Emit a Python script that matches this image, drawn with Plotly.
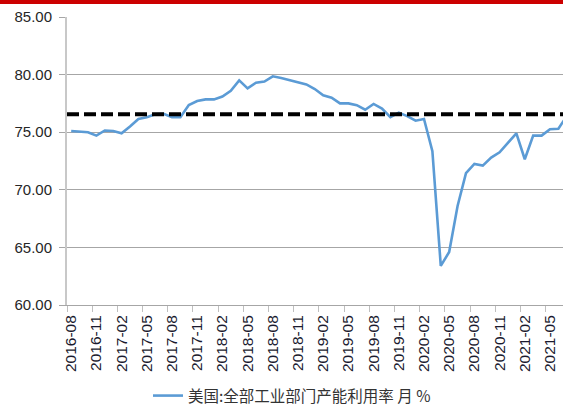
import plotly.graph_objects as go

months = [
    "2016-08","2016-09","2016-10","2016-11","2016-12","2017-01","2017-02","2017-03","2017-04","2017-05",
    "2017-06","2017-07","2017-08","2017-09","2017-10","2017-11","2017-12","2018-01","2018-02","2018-03",
    "2018-04","2018-05","2018-06","2018-07","2018-08","2018-09","2018-10","2018-11","2018-12","2019-01",
    "2019-02","2019-03","2019-04","2019-05","2019-06","2019-07","2019-08","2019-09","2019-10","2019-11",
    "2019-12","2020-01","2020-02","2020-03","2020-04","2020-05","2020-06","2020-07","2020-08","2020-09",
    "2020-10","2020-11","2020-12","2021-01","2021-02","2021-03","2021-04","2021-05","2021-06","2021-07",
]
utilization = [
    75.1, 75.05, 75.0, 74.7, 75.15, 75.1, 74.9, 75.5, 76.15, 76.3,
    76.55, 76.6, 76.3, 76.3, 77.35, 77.7, 77.85, 77.85, 78.1, 78.6,
    79.5, 78.8, 79.3, 79.4, 79.85, 79.7, 79.5, 79.3, 79.15, 78.75,
    78.2, 78.0, 77.5, 77.5, 77.35, 76.95, 77.45, 77.05, 76.3, 76.7,
    76.4, 76.0, 76.15, 73.35, 63.4, 64.6, 68.6, 71.45, 72.25, 72.1,
    72.8, 73.25, 74.05, 74.9, 72.65, 74.7, 74.7, 75.25, 75.3, 76.4,
]
average_level = 76.55
series_name = "美国:全部工业部门产能利用率 月 %"
y_ticks = [60, 65, 70, 75, 80, 85]

W, H = 563, 407
L, R, T, B = 67, 0, 17, 102
pw, ph = W - L - R, H - T - B

fig = go.Figure()
fig.add_trace(go.Scatter(
    x=months, y=utilization, mode="lines", name=series_name,
    line=dict(color="#5B9BD5", width=2.6),
))

# average dashed line
fig.add_shape(type="line", xref="paper", yref="y", x0=0, x1=1,
              y0=average_level, y1=average_level,
              line=dict(color="black", width=4, dash="12px,5px"), layer="above")
# red line on top
fig.add_shape(type="rect", xref="paper", yref="paper",
              x0=-L / pw, x1=1 + 1 / pw, y0=1 + (T - 4) / ph, y1=1 + (T + 1) / ph,
              fillcolor="#CC0000", line=dict(width=0), layer="above")

font = "Liberation Sans, Arial, sans-serif"
fig.update_layout(
    template="none",
    width=W, height=H,
    margin=dict(l=L, r=R, t=T, b=B, autoexpand=False),
    paper_bgcolor="white", plot_bgcolor="white",
    font=dict(family=font, size=14, color="#222222"),
    showlegend=True,
    legend=dict(orientation="h", x=148 / W, xref="container", xanchor="left",
                y=1 - 396 / H, yref="container", yanchor="middle",
                font=dict(family="Noto Sans CJK SC, " + font, size=15.5, color="#333333"),
                itemwidth=30, bgcolor="rgba(0,0,0,0)", borderwidth=0),
    xaxis=dict(
        type="category", range=[-0.5, 58.55], dtick=3, tickson="boundaries",
        tickangle=-90, ticks="outside", ticklen=6, tickcolor="#BFBFBF",
        showline=True, linecolor="#A6A6A6", linewidth=1,
        showgrid=False, tickfont=dict(size=15.5, color="#1a1a2e"),
        ticklabelstandoff=3,
        automargin=False, fixedrange=True,
    ),
    yaxis=dict(
        range=[60, 85], tickvals=y_ticks, ticktext=[f"{v:.2f}" for v in y_ticks],
        ticks="outside", ticklen=6, tickcolor="#A6A6A6",
        showline=True, linecolor="#C8C8C8", linewidth=2,
        showgrid=True, gridcolor="#A6A6A6", gridwidth=1,
        zeroline=False, tickfont=dict(size=15, color="#262626"),
        ticklabelstandoff=4, automargin=False, fixedrange=True,
    ),
)

fig.write_html("out.html", config={"displayModeBar": False},
               post_script="document.body.style.margin='0px';")
